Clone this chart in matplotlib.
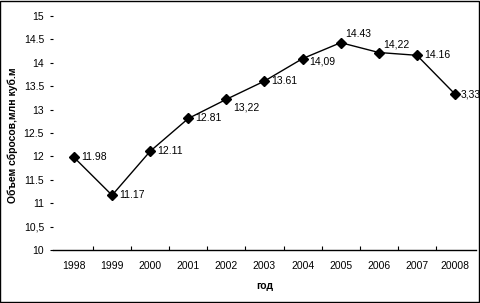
import numpy as np
import matplotlib
matplotlib.use("Agg")
import matplotlib.pyplot as plt

years = ["1998", "1999", "2000", "2001", "2002", "2003", "2004", "2005", "2006", "2007", "20008"]
values = [11.98, 11.17, 12.11, 12.81, 13.22, 13.61, 14.09, 14.43, 14.22, 14.16, 13.33]
point_labels = ["11.98", "11.17", "12.11", "12.81", "13,22", "13.61", "14,09", "14.43", "14,22", "14.16", "3,33"]
ytick_vals = [10, 10.5, 11, 11.5, 12, 12.5, 13, 13.5, 14, 14.5, 15]
ytick_labels = ["10", "10,5", "11", "11.5", "12", "12.5", "13", "13.5", "14", "14.5", "15"]

# label offsets in points (dx, dy)
offsets = [(5, 0), (5, 0), (5, 0), (5, 0), (5, -6), (5, 0), (5, -2), (3.5, 6), (3.5, 6), (5, 0), (4, 0)]

plt.rcParams['font.family'] = ['Liberation Sans', 'DejaVu Sans']
fs = 7.5

fig = plt.figure(figsize=(4.8, 3.03), dpi=100)
ax = fig.add_axes([53/480, 1-250/303, (476-53)/480, (250-16)/303])

x = np.arange(len(years))
ax.plot(x, values, color='black', lw=1, marker='D', ms=5, mfc='black', mec='black')
for xi, v, lab, off in zip(x, values, point_labels, offsets):
    ax.annotate(lab, (xi, v), xytext=off, textcoords='offset points', fontsize=fs, va='center', ha='left')

ax.set_xlim(-0.55, len(years) - 0.45)
ax.set_ylim(10, 15)
ax.set_xticks(x)
ax.set_xticklabels(years, fontsize=fs)
ax.set_xticks(np.arange(0.5, len(years) - 1, 1), minor=True)
ax.tick_params(axis='x', which='major', length=0, pad=8)
ax.tick_params(axis='x', which='minor', direction='in', length=3, width=0.8)
ax.set_yticks(ytick_vals)
ax.set_yticklabels(ytick_labels, fontsize=fs)
ax.tick_params(axis='y', length=2.5, width=0.8, direction='out', pad=4)
for s in ['top', 'right', 'left']:
    ax.spines[s].set_visible(False)
ax.spines['bottom'].set_linewidth(1)
ax.set_xlabel('год', fontsize=fs, fontweight='bold', labelpad=7)
ax.set_ylabel('Объем сбросов,млн куб.м', fontsize=fs, fontweight='bold')
ax.yaxis.set_label_coords(-0.083, 0.49)

fig.patches.append(plt.Rectangle((0.001, 0.002), 0.997, 0.995, transform=fig.transFigure,
                                 fill=False, edgecolor='black', lw=1))
fig.savefig('out.png', dpi=100)
